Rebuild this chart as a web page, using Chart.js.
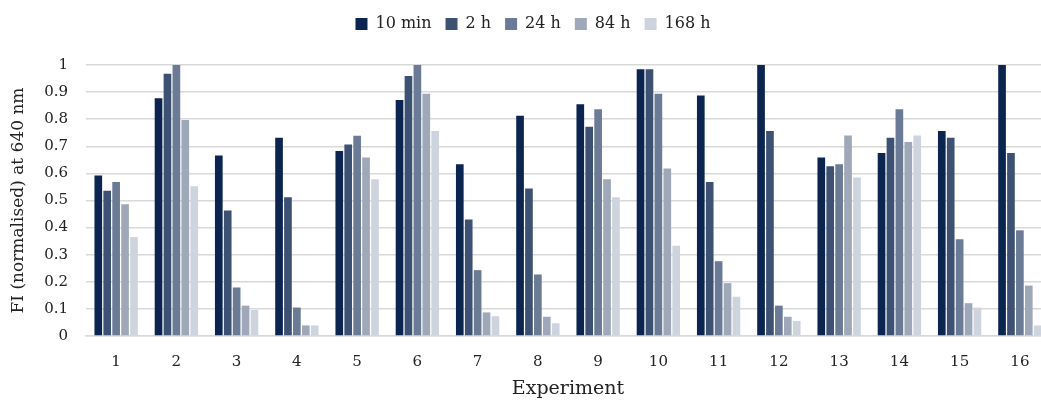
<!DOCTYPE html>
<html>
<head>
<meta charset="utf-8">
<script src="https://cdn.jsdelivr.net/npm/chart.js@4"></script>
<style>
  html, body { margin: 0; padding: 0; background: #fff; overflow: hidden; }
  #wrap { position: relative; width: 1050px; height: 403px; }
</style>
</head>
<body>
<div id="wrap"><canvas id="c"></canvas></div>
<script>
// Experiments on the x axis
const experiments = ['1','2','3','4','5','6','7','8','9','10','11','12','13','14','15','16'];

// Normalised fluorescence intensity at 640 nm, per time point
const min10 = [0.592, 0.877, 0.666, 0.732, 0.683, 0.871, 0.634, 0.813, 0.855, 0.984, 0.887, 1.0, 0.659, 0.675, 0.756, 1.0];
const h2    = [0.536, 0.968, 0.463, 0.512, 0.707, 0.959, 0.430, 0.544, 0.772, 0.984, 0.568, 0.756, 0.626, 0.732, 0.732, 0.675];
const h24   = [0.568, 1.0, 0.179, 0.105, 0.739, 1.0, 0.243, 0.227, 0.837, 0.894, 0.276, 0.112, 0.634, 0.837, 0.357, 0.390];
const h84   = [0.486, 0.797, 0.112, 0.039, 0.659, 0.894, 0.087, 0.071, 0.578, 0.618, 0.195, 0.071, 0.740, 0.716, 0.121, 0.186];
const h168  = [0.365, 0.553, 0.096, 0.039, 0.578, 0.756, 0.073, 0.047, 0.512, 0.333, 0.145, 0.055, 0.585, 0.740, 0.105, 0.039];

const seriesNames = ['10 min', '2 h', '24 h', '84 h', '168 h'];
const yTickLabels = ['0', '0.1', '0.2', '0.3', '0.4', '0.5', '0.6', '0.7', '0.8', '0.9', '1'];

const colours = ['#0b2550', '#3d5173', '#6b7b95', '#9ea8b9', '#ced4de'];
const values = [min10, h2, h24, h84, h168];

const FONT = '"DejaVu Serif", "Liberation Serif", serif';

// Reserve a fixed band for the legend above the plot
const legendBand = {
  id: 'legendBand',
  beforeUpdate(chart) {
    const lg = chart.legend;
    if (lg && !lg._bandPatched) {
      const baseFit = lg.fit;
      lg.fit = function () { baseFit.call(this); this.height = 63; };
      lg._bandPatched = true;
    }
  }
};

new Chart(document.getElementById('c'), {
  type: 'bar',
  data: {
    labels: experiments,
    datasets: values.map((v, i) => ({
      label: seriesNames[i],
      data: v,
      backgroundColor: colours[i],
      borderWidth: 0,
      barPercentage: 0.86,
      categoryPercentage: 0.74
    }))
  },
  plugins: [legendBand],
  options: {
    responsive: true,
    maintainAspectRatio: false,
    animation: false,
    layout: { padding: { top: 2, right: 0, left: 16, bottom: 0 } },
    plugins: {
      legend: {
        position: 'top',
        labels: {
          font: { family: FONT, size: 16 },
          color: '#222',
          boxWidth: 12,
          boxHeight: 12,
          padding: 14
        }
      },
      tooltip: { enabled: false }
    },
    scales: {
      x: {
        afterFit: (s) => { s.height = 67; },
        grid: { display: false, drawTicks: false },
        border: { color: '#d9d9d9', width: 1.5 },
        ticks: { font: { family: FONT, size: 15 }, color: '#222', padding: 17 },
        title: { display: true, text: 'Experiment', font: { family: FONT, size: 19 }, color: '#222', padding: { top: 4, bottom: 3 } }
      },
      y: {
        min: 0,
        max: 1,
        afterFit: (s) => { s.width = 70; },
        grid: { color: '#d9d9d9', lineWidth: 1.5, drawTicks: false },
        border: { display: false },
        ticks: {
          stepSize: 0.1,
          font: { family: FONT, size: 15 },
          color: '#222',
          padding: 18,
          callback: (v, i) => yTickLabels[i]
        },
        title: { display: true, text: 'FI (normalised) at 640 nm', font: { family: FONT, size: 17 }, color: '#222', padding: { top: -8, bottom: 0 } }
      }
    }
  }
});
</script>
</body>
</html>
